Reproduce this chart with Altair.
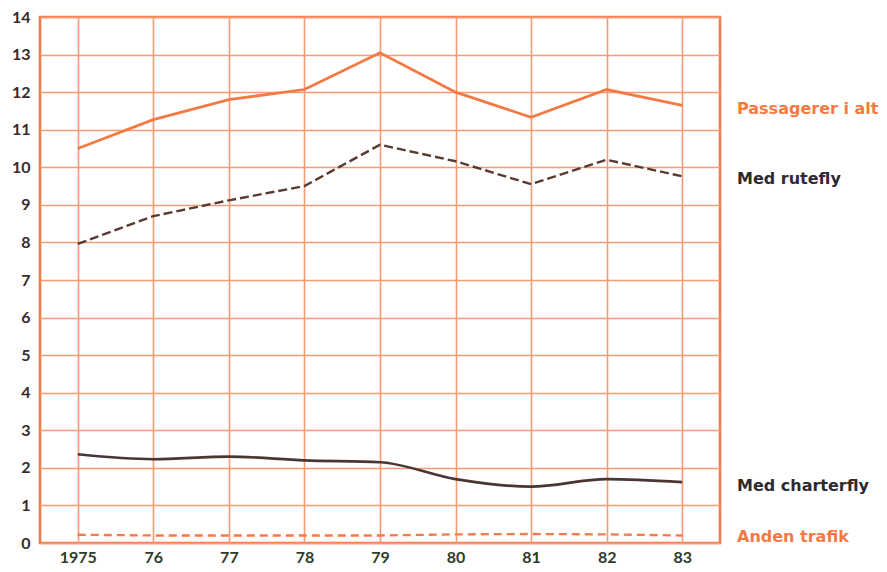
import altair as alt
import pandas as pd

years = ["1975", "76", "77", "78", "79", "80", "81", "82", "83"]
passagerer = [10.5, 11.27, 11.8, 12.07, 13.05, 12.0, 11.33, 12.07, 11.65]
rutefly = [7.96, 8.7, 9.12, 9.5, 10.6, 10.16, 9.55, 10.2, 9.76]
charterfly = [2.36, 2.23, 2.3, 2.2, 2.15, 1.7, 1.5, 1.7, 1.62]
anden = [0.22, 0.2, 0.2, 0.2, 0.2, 0.23, 0.24, 0.23, 0.2]

series_names = ["Passagerer i alt", "Med rutefly", "Med charterfly", "Anden trafik"]
series_vals = [passagerer, rutefly, charterfly, anden]
label_y = [11.56, 9.7, 1.51, 0.16]

ORANGE = "#f47a45"
GRID = "#f59a74"
DARK = "#4a3535"
DARKTXT = "#2e2a33"

rows = []
for name, vals in zip(series_names, series_vals):
    for yr, v in zip(years, vals):
        rows.append({"year": yr, "value": v, "series": name})
df = pd.DataFrame(rows)

labels_df = pd.DataFrame({"series": series_names, "value": label_y,
                          "color": [ORANGE, DARKTXT, DARKTXT, ORANGE]})

x = alt.X("year:O", sort=years, title=None,
          scale=alt.Scale(type="point", padding=0.5),
          axis=alt.Axis(labelAngle=0, labelFontSize=16, labelColor="#2f3a2a",
                        labelFont="Lato", labelFontWeight="bold", labelPadding=6,
                        ticks=False, domain=False, grid=True, gridColor=GRID,
                        gridWidth=1.6))
y = alt.Y("value:Q", title=None,
          scale=alt.Scale(domain=[0, 14], nice=False),
          axis=alt.Axis(values=list(range(15)), labelFontSize=16, labelColor="#3a2a2a",
                        labelFont="Lato", labelFontWeight="bold", labelPadding=10,
                        labelOverlap=False, ticks=False, domain=False, grid=True,
                        gridColor=GRID, gridWidth=1.6))

def line(name, color, dash=None, interp="linear", width=2.5):
    kw = {"color": color, "strokeWidth": width, "interpolate": interp}
    if dash:
        kw["strokeDash"] = dash
    return alt.Chart(df[df.series == name]).mark_line(**kw).encode(x=x, y=y)

l1 = line("Passagerer i alt", ORANGE, interp="linear", width=2.8)
l2 = line("Med rutefly", "#5a3a30", dash=[9, 4], width=2.4)
l3 = line("Med charterfly", DARK, interp="monotone", width=2.6)
l4 = line("Anden trafik", ORANGE, dash=[8, 5], width=2.3)

txt = alt.Chart(labels_df).mark_text(align="left", baseline="middle", fontSize=16,
                                     font="DejaVu Sans", fontWeight="bold").encode(
    x=alt.value(697),
    y=y,
    text="series:N",
    color=alt.Color("color:N", scale=None),
)

chart = alt.layer(l1, l2, l3, l4, txt).properties(
    width=680, height=526,
    autosize=alt.AutoSizeParams(type="none"),
    padding={"left": 32, "top": 9, "right": 159, "bottom": 21},
).configure_view(stroke=ORANGE, strokeWidth=2.5)

chart.save("out.html", embed_options={"renderer": "svg", "actions": False})
